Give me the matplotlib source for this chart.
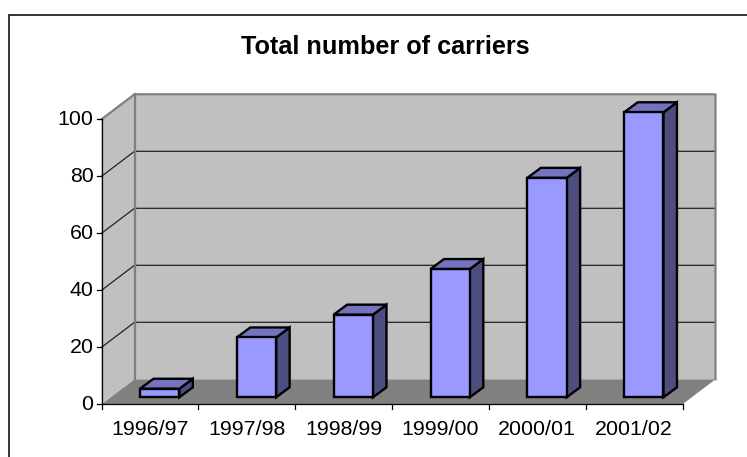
import numpy as np
import matplotlib
matplotlib.use('Agg')
import matplotlib.pyplot as plt
from matplotlib.patches import Polygon

plt.rcParams['font.family'] = ['Liberation Sans', 'DejaVu Sans']

years = ['1996/97', '1997/98', '1998/99', '1999/00', '2000/01', '2001/02']
carriers = [3, 21, 29, 45, 77, 100]
yticks = [0, 20, 40, 60, 80, 100]

W, H = 747, 457
fig = plt.figure(figsize=(W / 100, H / 100), dpi=100, facecolor='white')

# front plane of the fake 3d box, in pixels
left, right, y0, y100 = 101.5, 682.5, 404.3, 119.3
ax = fig.add_axes([left / W, 1 - y0 / H, (right - left) / W, (y0 - y100) / H])
ax.set_xlim(0, len(years))
ax.set_ylim(0, 100)
ax.axis('off')

xu = (right - left) / len(years)   # px per category
yu = (y0 - y100) / 100             # px per value unit
dx, dy = 33 / xu, 25 / yu          # wall depth


def poly(pts, fc, ec='none', lw=0, z=1):
    ax.add_patch(Polygon(pts, closed=True, facecolor=fc, edgecolor=ec, linewidth=lw,
                         joinstyle='miter', clip_on=False, zorder=z))


n = len(years)
wall = '#c0c0c0'
edge = '#808080'
# back wall, side wall, floor
poly([(dx, dy), (n + dx, dy), (n + dx, 100 + dy), (dx, 100 + dy)], wall, z=1)
poly([(0, 0), (dx, dy), (dx, 100 + dy), (0, 100)], wall, z=1)
poly([(0, 0), (n, 0), (n + dx, dy), (dx, dy)], edge, z=2)

for v in yticks[1:-1]:
    ax.plot([0, dx, n + dx], [v, v + dy, v + dy], color='#222222', lw=0.9, clip_on=False, zorder=3)
ax.plot([0, dx, n + dx, n + dx], [100, 100 + dy, 100 + dy, dy], color=edge, lw=1.6, clip_on=False, zorder=3)
ax.plot([dx, dx], [dy, 100 + dy], color=edge, lw=1.6, clip_on=False, zorder=3)

# axes lines and ticks
ax.plot([0, 0], [0, 100], color='black', lw=0.9, clip_on=False, zorder=6)
ax.plot([0, n], [0, 0], color='black', lw=0.9, clip_on=False, zorder=6)
for v in yticks:
    ax.plot([-5 / xu, 0], [v, v], color='black', lw=0.9, clip_on=False, zorder=6)
    ax.text(-8 / xu, v, str(v), ha='right', va='center', fontsize=15.4, zorder=6)
for i in range(n + 1):
    ax.plot([i, i], [0, -5 / yu], color='black', lw=0.9, clip_on=False, zorder=6)
for i, lab in enumerate(years):
    ax.text(i + 0.5, -25 / yu, lab, ha='center', va='center', fontsize=15.4, zorder=6)

# bars
bx = 38.5 / xu     # gap from tick to bar front
bw = 39.3 / xu
bdx, bdy = 13.5 / xu, 10 / yu
base = 7 / yu
for i, v in enumerate(carriers):
    x0 = i + bx
    x1 = x0 + bw
    top = base + v
    blk = dict(ec='black', lw=1.7, z=5)
    poly([(x1, base), (x1 + bdx, base + bdy), (x1 + bdx, top + bdy), (x1, top)], '#4d4d7f', **blk)
    poly([(x0, top), (x1, top), (x1 + bdx, top + bdy), (x0 + bdx, top + bdy)], '#7373bf', **blk)
    poly([(x0, base), (x1, base), (x1, top), (x0, top)], '#9999ff', **blk)

# chart frame, only top and left fall inside the crop
fig.add_artist(plt.Line2D([1, 9 / W, 9 / W], [1 - 14.5 / H, 1 - 14.5 / H, 0], color='#111111', lw=1.2,
                          solid_joinstyle='miter'))
fig.text(385 / W, 1 - 47 / H, 'Total number of carriers', ha='center', va='center',
         fontsize=18.2, fontweight='bold')

fig.savefig('out.png', dpi=100)
